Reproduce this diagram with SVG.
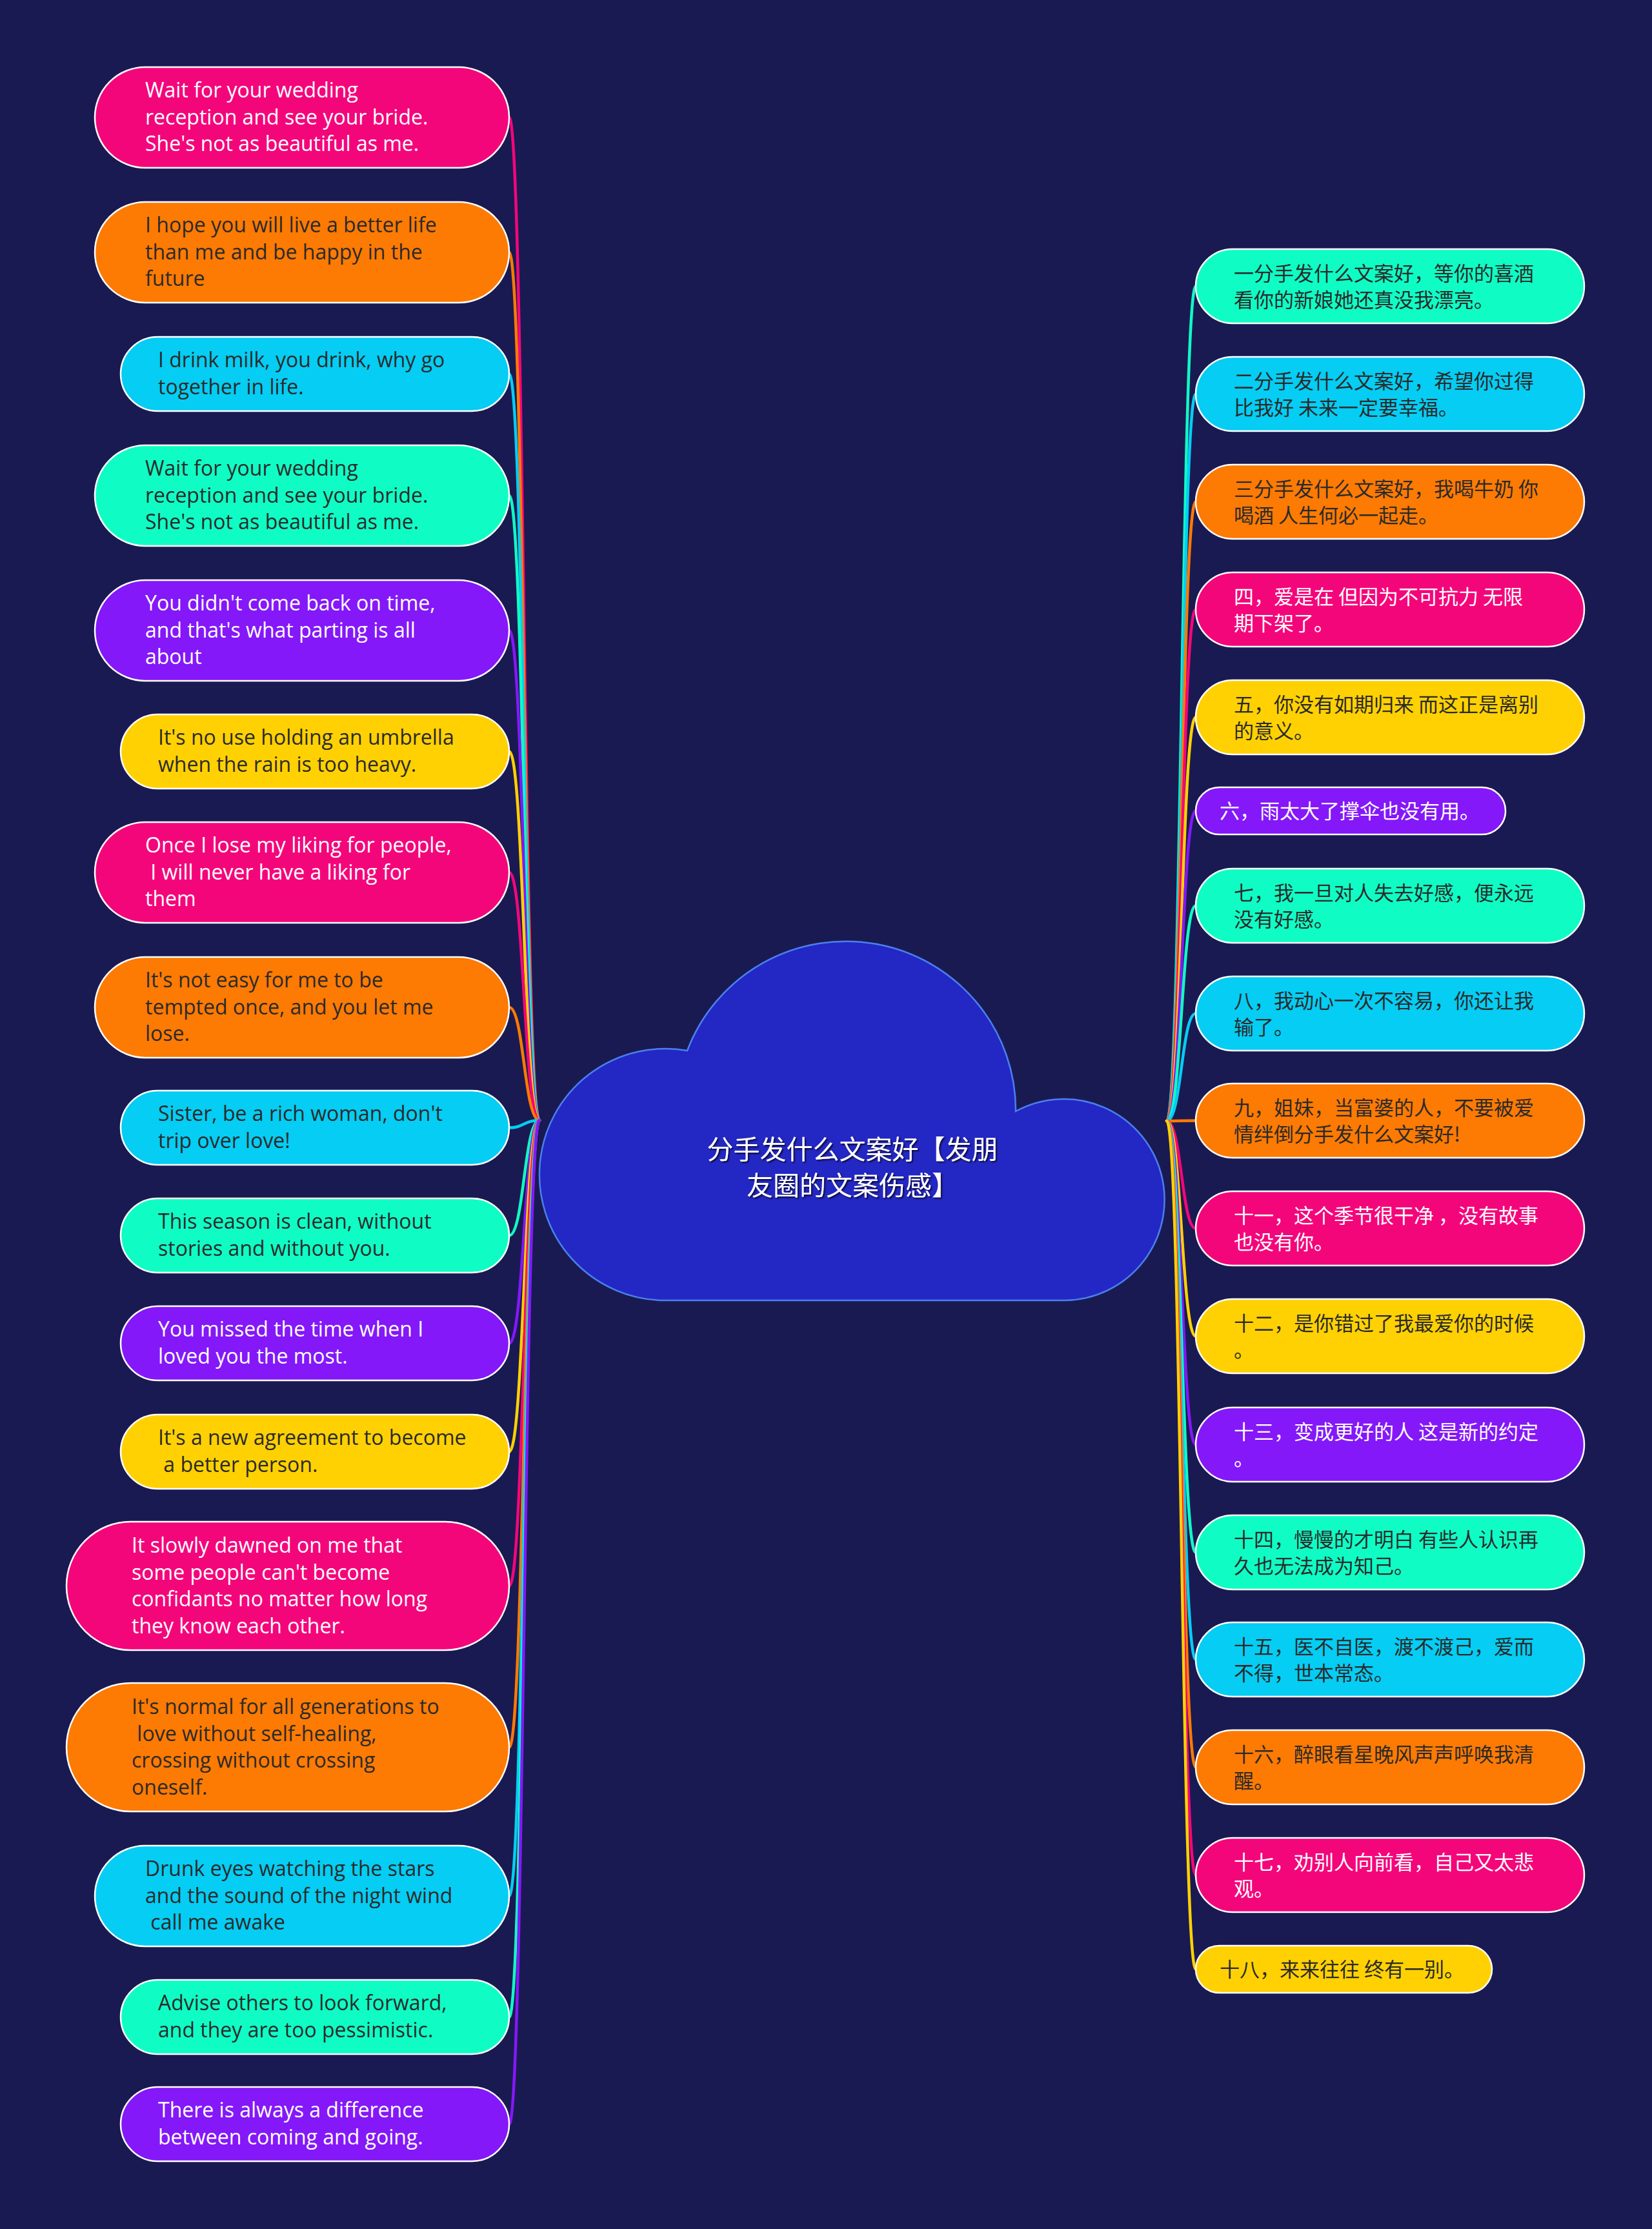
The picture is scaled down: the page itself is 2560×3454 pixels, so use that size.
<svg xmlns="http://www.w3.org/2000/svg" width="2560" height="3454" viewBox="0 0 2560 3454">
<defs>
<style>
.bg{fill:#1a1a52}
.n{stroke:#ffffff;stroke-width:2.5}
.pink{fill:#f4067b}
.orange{fill:#fd7a03}
.cyan{fill:#05cdf3}
.teal{fill:#0ffdc5}
.purple{fill:#8418f8}
.yellow{fill:#ffd102}
.c{fill:none;stroke-width:4.5;stroke-linecap:round}
.cpink{stroke:#f4067b}
.corange{stroke:#fd7a03}
.ccyan{stroke:#05cdf3}
.cteal{stroke:#0ffdc5}
.cpurple{stroke:#8418f8}
.cyellow{stroke:#ffd102}
.en{font-family:"Open Sans","Noto Sans",sans-serif;font-size:32px}
.zh{font-family:"Noto Sans CJK SC","Noto Sans",sans-serif;font-size:31px}
.w{fill:#ffffff}
.d{fill:#2a2a2a}
.title{font-family:"Noto Sans CJK SC",sans-serif;font-size:41px;fill:#ffffff;text-anchor:middle}
</style>
<filter id="sh" x="-10%" y="-10%" width="120%" height="130%">
<feDropShadow dx="2" dy="2" stdDeviation="1" flood-color="#000000" flood-opacity="0.7"/>
</filter>
</defs>
<rect class="bg" x="0" y="0" width="2560" height="3454"/>

<g id="connectors">
<path class="c cpink" d="M836 1736 C812 1736 812 182 789 182"/>
<path class="c corange" d="M836 1736 C812 1736 812 391 789 391"/>
<path class="c ccyan" d="M836 1736 C812 1736 812 579.5 789 579.5"/>
<path class="c cteal" d="M836 1736 C812 1736 812 768 789 768"/>
<path class="c cpurple" d="M836 1736 C812 1736 812 977 789 977"/>
<path class="c cyellow" d="M836 1736 C812 1736 812 1164.5 789 1164.5"/>
<path class="c cpink" d="M836 1736 C812 1736 812 1352 789 1352"/>
<path class="c corange" d="M836 1736 C812 1736 812 1561 789 1561"/>
<path class="c ccyan" d="M836 1736 C812 1736 812 1747.5 789 1747.5"/>
<path class="c cteal" d="M836 1736 C812 1736 812 1914.5 789 1914.5"/>
<path class="c cpurple" d="M836 1736 C812 1736 812 2081.5 789 2081.5"/>
<path class="c cyellow" d="M836 1736 C812 1736 812 2249.5 789 2249.5"/>
<path class="c cpink" d="M836 1736 C812 1736 812 2457.5 789 2457.5"/>
<path class="c corange" d="M836 1736 C812 1736 812 2707.5 789 2707.5"/>
<path class="c ccyan" d="M836 1736 C812 1736 812 2938 789 2938"/>
<path class="c cteal" d="M836 1736 C812 1736 812 3125.5 789 3125.5"/>
<path class="c cpurple" d="M836 1736 C812 1736 812 3291.5 789 3291.5"/>

<path class="c cteal" d="M1808 1737 C1831 1737 1831 443.5 1853 443.5"/>
<path class="c ccyan" d="M1808 1737 C1831 1737 1831 610.5 1853 610.5"/>
<path class="c corange" d="M1808 1737 C1831 1737 1831 777.5 1853 777.5"/>
<path class="c cpink" d="M1808 1737 C1831 1737 1831 944.5 1853 944.5"/>
<path class="c cyellow" d="M1808 1737 C1831 1737 1831 1111.5 1853 1111.5"/>
<path class="c cpurple" d="M1808 1737 C1831 1737 1831 1256.5 1853 1256.5"/>
<path class="c cteal" d="M1808 1737 C1831 1737 1831 1403.5 1853 1403.5"/>
<path class="c ccyan" d="M1808 1737 C1831 1737 1831 1570.5 1853 1570.5"/>
<path class="c corange" d="M1808 1737 C1831 1737 1831 1736.5 1853 1736.5"/>
<path class="c cpink" d="M1808 1737 C1831 1737 1831 1903.5 1853 1903.5"/>
<path class="c cyellow" d="M1808 1737 C1831 1737 1831 2070.5 1853 2070.5"/>
<path class="c cpurple" d="M1808 1737 C1831 1737 1831 2238.5 1853 2238.5"/>
<path class="c cteal" d="M1808 1737 C1831 1737 1831 2405.5 1853 2405.5"/>
<path class="c ccyan" d="M1808 1737 C1831 1737 1831 2571.5 1853 2571.5"/>
<path class="c corange" d="M1808 1737 C1831 1737 1831 2738.5 1853 2738.5"/>
<path class="c cpink" d="M1808 1737 C1831 1737 1831 2905.5 1853 2905.5"/>
<path class="c cyellow" d="M1808 1737 C1831 1737 1831 3051.5 1853 3051.5"/>
</g>

<g id="root">
<path d="M1030 2015 A195 195 0 1 1 1065 1628 A263 262 0 0 1 1574 1722 A156 156 0 1 1 1651 2015 Z" fill="#2327c3" stroke="#4a80ee" stroke-width="2.5"/>
<g filter="url(#sh)">
<text class="title" x="1321" y="1796">分手发什么文案好【发朋</text>
<text class="title" x="1321" y="1852">友圈的文案伤感】</text>
</g>
</g>

<g id="L1"><rect class="n pink" x="147" y="104" width="642" height="156" rx="78"/>
<text class="en w" x="225" y="151">Wait for your wedding<tspan x="225" dy="41.5">reception and see your bride.</tspan><tspan x="225" dy="41.5">She's not as beautiful as me.</tspan></text></g>
<g id="L2"><rect class="n orange" x="147" y="313" width="642" height="156" rx="78"/>
<text class="en d" x="225" y="360">I hope you will live a better life<tspan x="225" dy="41.5">than me and be happy in the</tspan><tspan x="225" dy="41.5">future</tspan></text></g>
<g id="L3"><rect class="n cyan" x="187" y="522" width="602" height="115" rx="57.5"/>
<text class="en d" x="245" y="569">I drink milk, you drink, why go<tspan x="245" dy="41.5">together in life.</tspan></text></g>
<g id="L4"><rect class="n teal" x="147" y="690" width="642" height="156" rx="78"/>
<text class="en d" x="225" y="737">Wait for your wedding<tspan x="225" dy="41.5">reception and see your bride.</tspan><tspan x="225" dy="41.5">She's not as beautiful as me.</tspan></text></g>
<g id="L5"><rect class="n purple" x="147" y="899" width="642" height="156" rx="78"/>
<text class="en w" x="225" y="946">You didn't come back on time,<tspan x="225" dy="41.5">and that's what parting is all</tspan><tspan x="225" dy="41.5">about</tspan></text></g>
<g id="L6"><rect class="n yellow" x="187" y="1107" width="602" height="115" rx="57.5"/>
<text class="en d" x="245" y="1154">It's no use holding an umbrella<tspan x="245" dy="41.5">when the rain is too heavy.</tspan></text></g>
<g id="L7"><rect class="n pink" x="147" y="1274" width="642" height="156" rx="78"/>
<text class="en w" x="225" y="1321" xml:space="preserve">Once I lose my liking for people,<tspan x="225" dy="41.5"> I will never have a liking for</tspan><tspan x="225" dy="41.5">them</tspan></text></g>
<g id="L8"><rect class="n orange" x="147" y="1483" width="642" height="156" rx="78"/>
<text class="en d" x="225" y="1530">It's not easy for me to be<tspan x="225" dy="41.5">tempted once, and you let me</tspan><tspan x="225" dy="41.5">lose.</tspan></text></g>
<g id="L9"><rect class="n cyan" x="187" y="1690" width="602" height="115" rx="57.5"/>
<text class="en d" x="245" y="1737">Sister, be a rich woman, don't<tspan x="245" dy="41.5">trip over love!</tspan></text></g>
<g id="L10"><rect class="n teal" x="187" y="1857" width="602" height="115" rx="57.5"/>
<text class="en d" x="245" y="1904">This season is clean, without<tspan x="245" dy="41.5">stories and without you.</tspan></text></g>
<g id="L11"><rect class="n purple" x="187" y="2024" width="602" height="115" rx="57.5"/>
<text class="en w" x="245" y="2071">You missed the time when I<tspan x="245" dy="41.5">loved you the most.</tspan></text></g>
<g id="L12"><rect class="n yellow" x="187" y="2192" width="602" height="115" rx="57.5"/>
<text class="en d" x="245" y="2239" xml:space="preserve">It's a new agreement to become<tspan x="245" dy="41.5"> a better person.</tspan></text></g>
<g id="L13"><rect class="n pink" x="103" y="2358" width="686" height="199" rx="99.5"/>
<text class="en w" x="204" y="2406">It slowly dawned on me that<tspan x="204" dy="41.5">some people can't become</tspan><tspan x="204" dy="41.5">confidants no matter how long</tspan><tspan x="204" dy="41.5">they know each other.</tspan></text></g>
<g id="L14"><rect class="n orange" x="103" y="2608" width="686" height="199" rx="99.5"/>
<text class="en d" x="204" y="2656" xml:space="preserve">It's normal for all generations to<tspan x="204" dy="41.5"> love without self-healing,</tspan><tspan x="204" dy="41.5">crossing without crossing</tspan><tspan x="204" dy="41.5">oneself.</tspan></text></g>
<g id="L15"><rect class="n cyan" x="147" y="2860" width="642" height="156" rx="78"/>
<text class="en d" x="225" y="2907" xml:space="preserve">Drunk eyes watching the stars<tspan x="225" dy="41.5">and the sound of the night wind</tspan><tspan x="225" dy="41.5"> call me awake</tspan></text></g>
<g id="L16"><rect class="n teal" x="187" y="3068" width="602" height="115" rx="57.5"/>
<text class="en d" x="245" y="3115">Advise others to look forward,<tspan x="245" dy="41.5">and they are too pessimistic.</tspan></text></g>
<g id="L17"><rect class="n purple" x="187" y="3234" width="602" height="115" rx="57.5"/>
<text class="en w" x="245" y="3281">There is always a difference<tspan x="245" dy="41.5">between coming and going.</tspan></text></g>

<g id="R1"><rect class="n teal" x="1853" y="386" width="602" height="115" rx="57.5"/>
<text class="zh d" x="1912" y="435">一分手发什么文案好，等你的喜酒<tspan x="1912" dy="41">看你的新娘她还真没我漂亮。</tspan></text></g>
<g id="R2"><rect class="n cyan" x="1853" y="553" width="602" height="115" rx="57.5"/>
<text class="zh d" x="1912" y="602">二分手发什么文案好，希望你过得<tspan x="1912" dy="41">比我好 未来一定要幸福。</tspan></text></g>
<g id="R3"><rect class="n orange" x="1853" y="720" width="602" height="115" rx="57.5"/>
<text class="zh d" x="1912" y="769">三分手发什么文案好，我喝牛奶 你<tspan x="1912" dy="41">喝酒 人生何必一起走。</tspan></text></g>
<g id="R4"><rect class="n pink" x="1853" y="887" width="602" height="115" rx="57.5"/>
<text class="zh w" x="1912" y="936">四，爱是在 但因为不可抗力 无限<tspan x="1912" dy="41">期下架了。</tspan></text></g>
<g id="R5"><rect class="n yellow" x="1853" y="1054" width="602" height="115" rx="57.5"/>
<text class="zh d" x="1912" y="1103">五，你没有如期归来 而这正是离别<tspan x="1912" dy="41">的意义。</tspan></text></g>
<g id="R6"><rect class="n purple" x="1853" y="1220" width="480" height="73" rx="36.5"/>
<text class="zh w" x="1890" y="1268">六，雨太大了撑伞也没有用。</text></g>
<g id="R7"><rect class="n teal" x="1853" y="1346" width="602" height="115" rx="57.5"/>
<text class="zh d" x="1912" y="1395">七，我一旦对人失去好感，便永远<tspan x="1912" dy="41">没有好感。</tspan></text></g>
<g id="R8"><rect class="n cyan" x="1853" y="1513" width="602" height="115" rx="57.5"/>
<text class="zh d" x="1912" y="1562">八，我动心一次不容易，你还让我<tspan x="1912" dy="41">输了。</tspan></text></g>
<g id="R9"><rect class="n orange" x="1853" y="1679" width="602" height="115" rx="57.5"/>
<text class="zh d" x="1912" y="1728">九，姐妹，当富婆的人，不要被爱<tspan x="1912" dy="41">情绊倒分手发什么文案好!</tspan></text></g>
<g id="R10"><rect class="n pink" x="1853" y="1846" width="602" height="115" rx="57.5"/>
<text class="zh w" x="1912" y="1895">十一，这个季节很干净 ，没有故事<tspan x="1912" dy="41">也没有你。</tspan></text></g>
<g id="R11"><rect class="n yellow" x="1853" y="2013" width="602" height="115" rx="57.5"/>
<text class="zh d" x="1912" y="2062">十二，是你错过了我最爱你的时候<tspan x="1912" dy="41">。</tspan></text></g>
<g id="R12"><rect class="n purple" x="1853" y="2181" width="602" height="115" rx="57.5"/>
<text class="zh w" x="1912" y="2230">十三，变成更好的人 这是新的约定<tspan x="1912" dy="41">。</tspan></text></g>
<g id="R13"><rect class="n teal" x="1853" y="2348" width="602" height="115" rx="57.5"/>
<text class="zh d" x="1912" y="2397">十四，慢慢的才明白 有些人认识再<tspan x="1912" dy="41">久也无法成为知己。</tspan></text></g>
<g id="R14"><rect class="n cyan" x="1853" y="2514" width="602" height="115" rx="57.5"/>
<text class="zh d" x="1912" y="2563">十五，医不自医，渡不渡己，爱而<tspan x="1912" dy="41">不得，世本常态。</tspan></text></g>
<g id="R15"><rect class="n orange" x="1853" y="2681" width="602" height="115" rx="57.5"/>
<text class="zh d" x="1912" y="2730">十六，醉眼看星晚风声声呼唤我清<tspan x="1912" dy="41">醒。</tspan></text></g>
<g id="R16"><rect class="n pink" x="1853" y="2848" width="602" height="115" rx="57.5"/>
<text class="zh w" x="1912" y="2897">十七，劝别人向前看，自己又太悲<tspan x="1912" dy="41">观。</tspan></text></g>
<g id="R17"><rect class="n yellow" x="1853" y="3015" width="459" height="73" rx="36.5"/>
<text class="zh d" x="1890" y="3063">十八，来来往往 终有一别。</text></g>
</svg>
